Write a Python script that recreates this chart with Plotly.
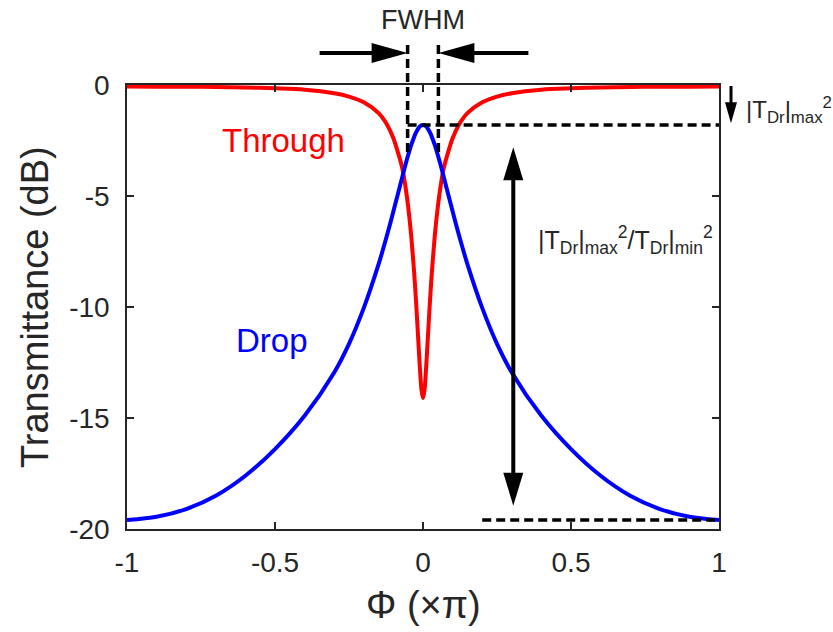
import plotly.graph_objects as go

# Round-trip phase (in units of pi) and the port responses in dB
phi = [-1.0, -0.9, -0.8, -0.7, -0.6, -0.5, -0.4, -0.3, -0.25, -0.2, -0.15, -0.12,
       -0.1, -0.08, -0.07, -0.06, -0.05, -0.04, -0.03, -0.025, -0.02, -0.015, -0.01,
       -0.005, 0.0, 0.005, 0.01, 0.015, 0.02, 0.025, 0.03, 0.04, 0.05, 0.06, 0.07,
       0.08, 0.1, 0.12, 0.15, 0.2, 0.25, 0.3, 0.4, 0.5, 0.6, 0.7, 0.8, 0.9, 1.0]

through_db = [-0.07, -0.08, -0.08, -0.09, -0.11, -0.15, -0.21, -0.37, -0.52, -0.78,
              -1.27, -1.82, -2.40, -3.25, -3.75, -4.51, -5.50, -6.77, -8.43, -9.43,
              -10.54, -11.72, -12.86, -13.75, -14.10, -13.75, -12.86, -11.72, -10.54,
              -9.43, -8.43, -6.77, -5.50, -4.51, -3.75, -3.25, -2.40, -1.82, -1.27,
              -0.78, -0.52, -0.37, -0.21, -0.15, -0.11, -0.09, -0.08, -0.08, -0.07]

drop_db = [-19.60, -19.45, -19.10, -18.50, -17.60, -16.40, -14.90, -12.95, -11.66,
           -10.04, -8.07, -6.69, -5.69, -4.66, -4.14, -3.63, -3.15, -2.71, -2.34,
           -2.18, -2.05, -1.94, -1.86, -1.82, -1.80, -1.82, -1.86, -1.94, -2.05,
           -2.18, -2.34, -2.71, -3.15, -3.63, -4.14, -4.66, -5.69, -6.69, -8.07,
           -10.04, -11.66, -12.95, -14.90, -16.40, -17.60, -18.50, -19.10, -19.45,
           -19.60]

x_ticks = [-1, -0.5, 0, 0.5, 1]
x_tick_text = ["-1", "-0.5", "0", "0.5", "1"]
y_ticks = [0, -5, -10, -15, -20]
y_tick_text = ["0", "-5", "-10", "-15", "-20"]

# Marker levels used by the annotations
drop_max = max(drop_db)
drop_min = min(drop_db)
fwhm_half = 0.052

INK = "#262626"
FONT = "Liberation Sans, Arial, Helvetica, sans-serif"
ML, MR, MT, MB = 127, 114, 85, 103
W, H = 833 - ML - MR, 632 - MT - MB
XR, YR = (-1, 1), (-20, 0)


def px_x(v):
    return ML + (v - XR[0]) / (XR[1] - XR[0]) * W


def px_y(v):
    return MT + (YR[1] - v) / (YR[1] - YR[0]) * H


def fx(p):
    return (p - ML) / W


def fy(p):
    return (MT + H - p) / H


def seg(x0, y0, x1, y1, dash=None, width=3.5):
    line = dict(color="black", width=width)
    if dash:
        line["dash"] = dash
    return dict(type="line", xref="paper", yref="paper",
                x0=fx(x0), y0=fy(y0), x1=fx(x1), y1=fy(y1), line=line, layer="above")


def head(tx, ty, direction, length, half):
    # filled triangular arrow head with its tip at (tx, ty) in pixels
    if direction == "right":
        pts = [(tx, ty), (tx - length, ty - half), (tx - length, ty + half)]
    elif direction == "left":
        pts = [(tx, ty), (tx + length, ty - half), (tx + length, ty + half)]
    elif direction == "up":
        pts = [(tx, ty), (tx - half, ty + length), (tx + half, ty + length)]
    else:
        pts = [(tx, ty), (tx - half, ty - length), (tx + half, ty - length)]
    path = "M " + " L ".join(f"{fx(a):.5f},{fy(b):.5f}" for a, b in pts) + " Z"
    return dict(type="path", xref="paper", yref="paper", path=path,
                fillcolor="black", line=dict(width=0), layer="above")


DASH = "9px,5px"
shapes = []

# FWHM markers
xl, xr = px_x(-fwhm_half), px_x(fwhm_half)
y_top = 45
y_half = px_y(-3.2)
shapes.append(seg(xl, y_top, xl, y_half, DASH))
shapes.append(seg(xr, y_top, xr, y_half, DASH))
ya = 53
shapes.append(seg(xl - 88, ya, xl - 30, ya, width=4))
shapes.append(head(xl, ya, "right", 36, 10))
shapes.append(seg(xr + 90, ya, xr + 30, ya, width=4))
shapes.append(head(xr, ya, "left", 36, 10))

# level lines for the drop maximum and minimum
shapes.append(seg(xl, px_y(drop_max), px_x(1), px_y(drop_max), DASH))
shapes.append(seg(px_x(0.2), px_y(drop_min), px_x(1), px_y(drop_min), DASH))

# extinction ratio double arrow
xa = px_x(0.305)
y_up, y_dn = px_y(-2.8), px_y(-18.95)
shapes.append(seg(xa, y_up + 25, xa, y_dn - 25, width=4))
shapes.append(head(xa, y_up, "up", 33, 10))
shapes.append(head(xa, y_dn, "down", 33, 10))

# small arrow down to the drop maximum, right of the frame
xs = 731
shapes.append(seg(xs, px_y(0) + 1, xs, px_y(drop_max) - 18, width=3))
shapes.append(head(xs, px_y(-1.72), "down", 21, 6))

fig = go.Figure()
fig.add_trace(go.Scatter(x=phi, y=through_db, mode="lines", name="Through",
                         line=dict(color="#FF0000", width=4, shape="spline", smoothing=0.8)))
fig.add_trace(go.Scatter(x=phi, y=drop_db, mode="lines", name="Drop",
                         line=dict(color="#0000FF", width=4, shape="spline", smoothing=0.8)))

annotations = [
    dict(text="FWHM", xref="paper", yref="paper", x=0.5, y=fy(20),
         font=dict(size=27, color=INK)),
    dict(text="Through", xref="x", yref="y", x=-0.47, y=-2.5,
         font=dict(size=33, color="#FF0000")),
    dict(text="Drop", xref="x", yref="y", x=-0.51, y=-11.5,
         font=dict(size=33, color="#0000FF")),
    dict(text="|T<sub>Dr</sub>|<sub>max</sub><sup>2</sup>/T<sub>Dr</sub>|<sub>min</sub><sup>2</sup>",
         xref="x", yref="y", x=0.382, y=-7.0, xanchor="left",
         font=dict(size=25, color=INK)),
    dict(text="|T<sub>Dr</sub>|<sub>max</sub><sup>2</sup>",
         xref="paper", yref="paper", x=fx(744), y=fy(110), xanchor="left",
         font=dict(size=24, color=INK)),
    dict(text="Transmittance (dB)", xref="paper", yref="paper", x=fx(35), y=fy(307),
         textangle=-90, font=dict(size=38, color=INK)),
    dict(text="\u03a6 (\u00d7\u03c0)", xref="paper", yref="paper", x=0.5, y=fy(605),
         font=dict(size=38, color=INK)),
]
for a in annotations:
    a.setdefault("showarrow", False)
    a.setdefault("xanchor", "center")
    a.setdefault("yanchor", "middle")

axis_common = dict(showline=True, linecolor=INK, linewidth=1.5, mirror="allticks",
                   ticks="inside", ticklen=7, tickwidth=1.5, tickcolor=INK,
                   showgrid=False, zeroline=False,
                   tickfont=dict(size=28, color=INK, family=FONT))

fig.update_layout(
    width=833, height=632,
    margin=dict(l=ML, r=MR, t=MT, b=MB),
    paper_bgcolor="white", plot_bgcolor="white",
    font=dict(family=FONT, color=INK),
    showlegend=False,
    xaxis=dict(range=list(XR), tickvals=x_ticks, ticktext=x_tick_text,
               ticklabelstandoff=8, **axis_common),
    yaxis=dict(range=list(YR), tickvals=y_ticks, ticktext=y_tick_text,
               ticklabelstandoff=10, **axis_common),
    shapes=shapes,
    annotations=annotations,
)

fig.write_html("out.html")
